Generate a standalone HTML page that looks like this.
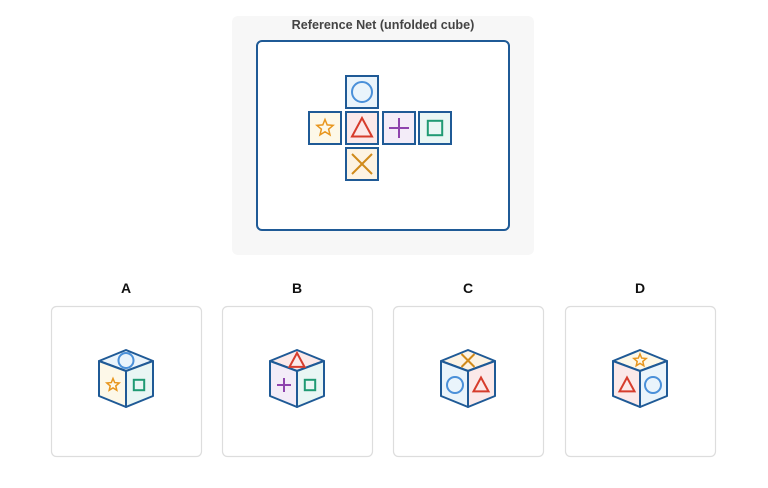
<!DOCTYPE html>
<html><head><meta charset="utf-8"><style>
html,body{margin:0;padding:0;background:#fff;width:768px;height:488px;overflow:hidden;font-family:"Liberation Sans",sans-serif}
</style></head><body>
<svg width="768" height="488" viewBox="0 0 768 488" xmlns="http://www.w3.org/2000/svg">
<rect x="232" y="16" width="302" height="239" rx="6" fill="#f7f7f7"/>
<text x="383" y="29" text-anchor="middle" font-size="12.6" font-weight="bold" fill="#444">Reference Net (unfolded cube)</text>
<rect x="257" y="41" width="252" height="189" rx="5" fill="#fff" stroke="#1f5a96" stroke-width="2"/>
<g id="net"></g>
<g id="cards"></g>
</svg>
<script>
const faceNames=['circle','star','triangle','plus','square','cross'];
const netCols=[1,0,1,2,3,1];
const netRows=[0,1,1,1,1,2];
const optionLabels=['A','B','C','D'];
const optionTop=['circle','triangle','cross','star'];
const optionLeft=['star','plus','circle','triangle'];
const optionRight=['square','square','triangle','circle'];
const col={circle:['#4a90d9','#eaf4fb'],star:['#e8961e','#fdf8e8'],triangle:['#d63c2c','#fbe9e9'],plus:['#8e44ad','#f3ecf8'],square:['#1f9a73','#e9f6f4'],cross:['#d08a1a','#fdf3e3']};
const NS='http://www.w3.org/2000/svg';
function mk(tag,attrs,parent){const e=document.createElementNS(NS,tag);for(const k in attrs)e.setAttribute(k,attrs[k]);parent.appendChild(e);return e;}
function sym(type,cx,cy,s,parent){
 const c=col[type][0];const g=mk('g',{fill:'none',stroke:c,'stroke-width':2},parent);
 
 
 if(type==='circle')mk('circle',{cx:cx,cy:cy,r:s},g);
 else if(type==='square')mk('rect',{x:cx-s*0.8,y:cy-s*0.8,width:s*1.6,height:s*1.6},g);
 else if(type==='triangle')mk('polygon',{points:`${cx},${cy-s} ${cx-s},${cy+s*0.85} ${cx+s},${cy+s*0.85}`},g);
 else if(type==='plus')mk('path',{d:`M${cx-s} ${cy}H${cx+s}M${cx} ${cy-s}V${cy+s}`},g);
 else if(type==='cross')mk('path',{d:`M${cx-s} ${cy-s}L${cx+s} ${cy+s}M${cx+s} ${cy-s}L${cx-s} ${cy+s}`},g);
 else if(type==='star'){let p=[];for(let i=0;i<10;i++){const r=i%2?s*0.45:s;const a=-Math.PI/2+i*Math.PI/5;p.push((cx+r*Math.cos(a)).toFixed(1)+','+(cy+r*Math.sin(a)).toFixed(1));}mk('polygon',{points:p.join(' '),'stroke-width':1.5},g);}
}
const net=document.getElementById('net');
const size=32,gap=5,x0=309,y0=76;
faceNames.forEach((f,i)=>{
 const x=x0+netCols[i]*(size+gap)-(netCols[i]===3?1:0),y=y0+netRows[i]*(size+gap-1);
 const r=mk('rect',{x:x,y:y,width:size,height:size,fill:col[f][1],stroke:'#1f5a96','stroke-width':2},net);
 
 
 sym(f,x+size/2,y+size/2,f==='star'?8.5:(f==='square'?9:10),net);
});
const cards=document.getElementById('cards');
const cardX=[51,222,393,565];
const symSize={circle:8,star:6.5,triangle:7.5,plus:7,square:6.5,cross:6.5};
optionLabels.forEach((L,i)=>{
 const g=mk('g',{},cards);
 
 
 const x=cardX[i],cx=x+75;
 const t=mk('text',{x:cx,y:293,'text-anchor':'middle','font-size':14,'font-weight':'bold',fill:'#111'},g);t.textContent=L;
 
 
 const c=mk('rect',{x:x+0.5,y:306.5,width:150,height:150,rx:5,fill:'#fff',stroke:'#ddd','stroke-width':1.2},g);
 
 
 const T=350,M=361,C=371,B=407,LB=396,w=27;
 const faces=[[optionTop[i],`${cx},${T} ${cx+w},${M} ${cx},${C} ${cx-w},${M}`],[optionLeft[i],`${cx-w},${M} ${cx},${C} ${cx},${B} ${cx-w},${LB}`],[optionRight[i],`${cx+w},${M} ${cx},${C} ${cx},${B} ${cx+w},${LB}`]];
 faces.forEach((fc,j)=>{
  const p=mk('polygon',{points:fc[1],fill:col[fc[0]][1],stroke:'#1f5a96','stroke-width':2,'stroke-linejoin':'round'},g);
  
  
 });
 sym(optionTop[i],cx,T+10.5,optionTop[i]==='circle'?7.5:symSize[optionTop[i]],g);
 sym(optionLeft[i],cx-13,M+24,symSize[optionLeft[i]],g);
 sym(optionRight[i],cx+13,M+24,symSize[optionRight[i]],g);
});
</script>
</body></html>
